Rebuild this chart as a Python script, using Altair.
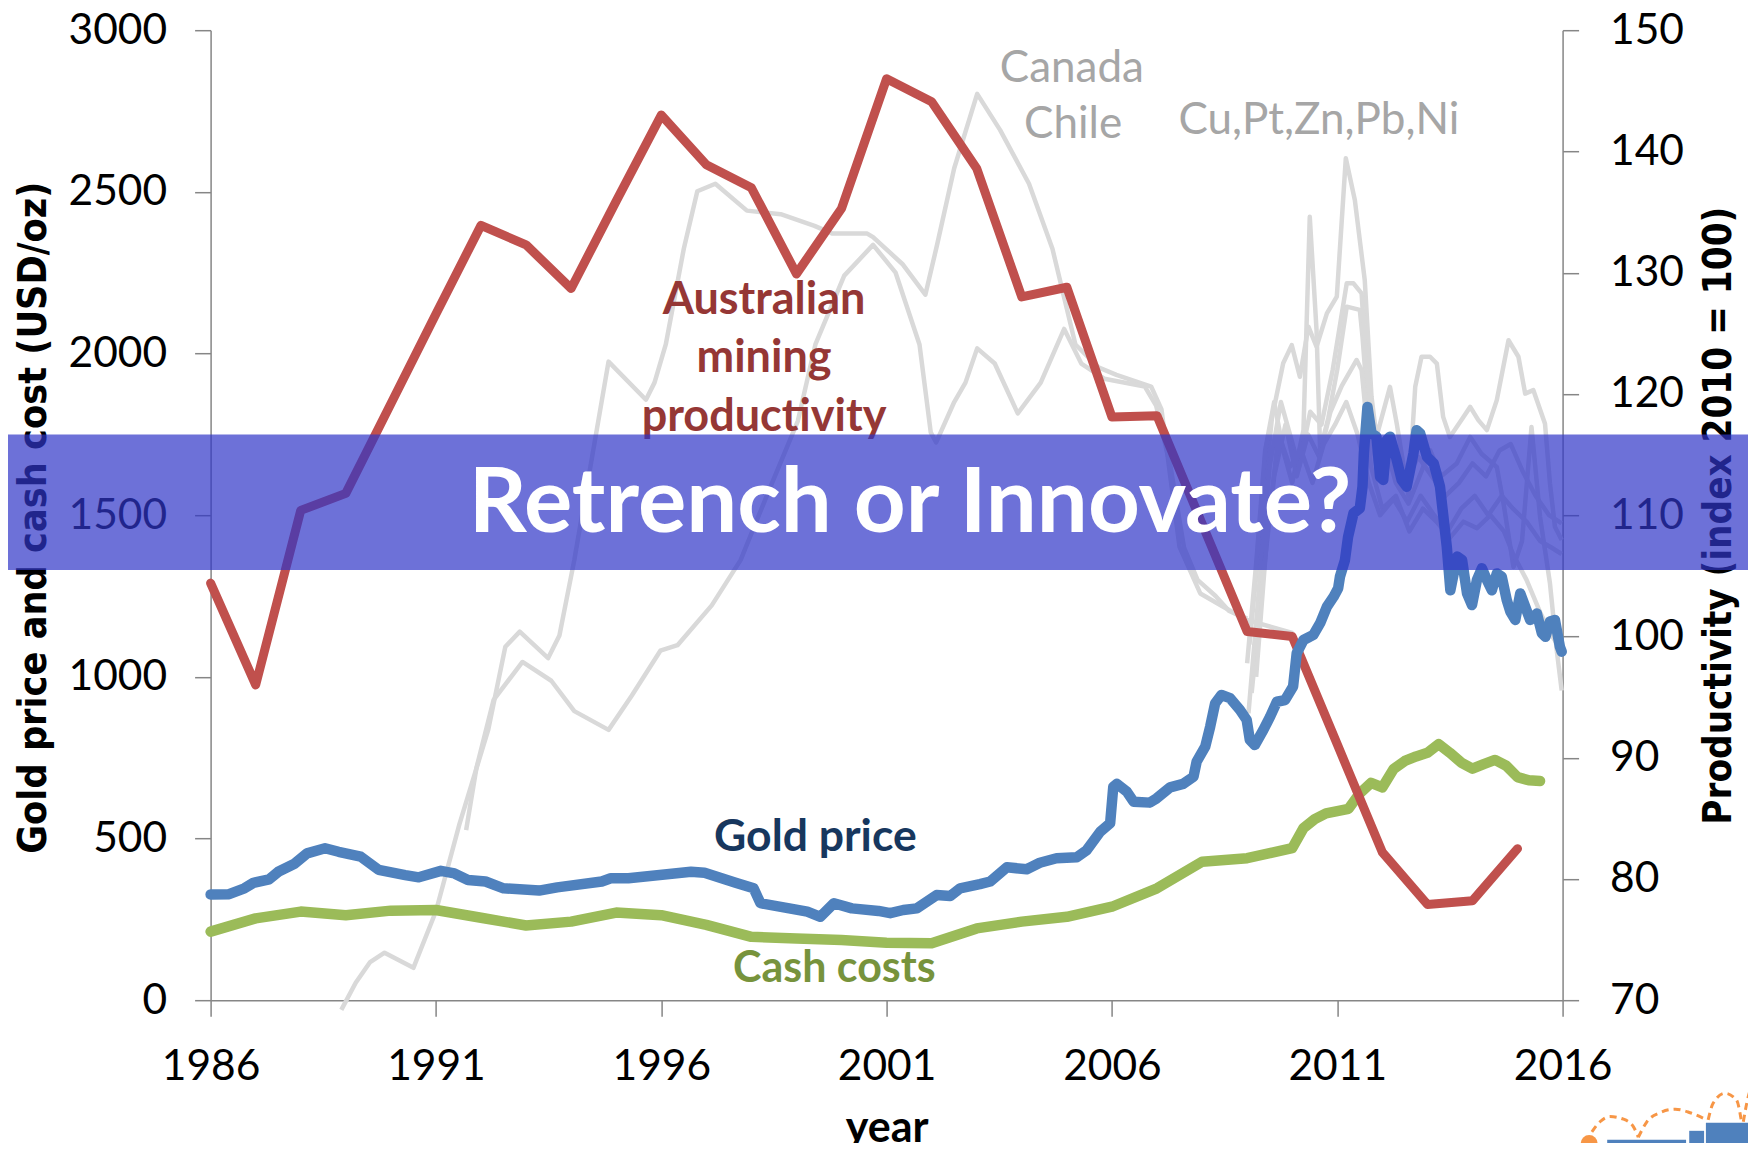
import altair as alt
import pandas as pd

# ---------------- data ----------------
prod_years = list(range(1986, 2016))
productivity = [104.4, 96.0, 110.4, 111.8, 119.2, 126.6, 133.9, 132.3, 128.7, 135.9,
                143.0, 138.9, 137.0, 129.9, 135.3, 146.0, 144.1, 138.6, 128.0, 128.8,
                118.1, 118.2, 109.3, 100.4, 100.0, 91.1, 82.2, 77.9, 78.2, 82.5]

cash_years = [1986, 1987, 1988, 1989, 1990, 1991, 1992, 1993, 1994, 1995, 1996, 1997,
              1998, 1999, 2000, 2001, 2002, 2003, 2004, 2005, 2006, 2007, 2008, 2009,
              2010.0, 2010.25, 2010.5, 2010.75, 2011.0, 2011.25, 2011.5, 2011.75,
              2012.0, 2012.25, 2012.5, 2012.75, 2013.0, 2013.25, 2013.5, 2013.75,
              2014.0, 2014.25, 2014.5, 2014.75, 2015.0, 2015.25, 2015.5]
cash_costs = [212, 253, 274, 263, 277, 279, 255, 231, 243, 271, 263, 233,
              196, 191, 186, 178, 176, 222, 243, 258, 289, 346, 428, 439,
              470, 532, 560, 578, 585, 592, 640, 672,
              658, 715, 740, 754, 765, 792, 765, 735,
              716, 730, 743, 725, 690, 680, 678]

gold_years = [1986.0, 1986.41, 1986.75, 1986.95, 1987.3, 1987.5, 1987.85, 1988.14, 1988.54, 1988.84,
              1989.33, 1989.73, 1990.32, 1990.62, 1991.11, 1991.41, 1991.71, 1992.1, 1992.5, 1993.29,
              1993.69, 1994.68, 1994.88, 1995.27, 1996.66, 1996.96, 1997.65, 1998.05, 1998.2, 1998.84,
              1999.24, 1999.53, 1999.83, 2000.23, 2000.82, 2001.08, 2001.37, 2001.67, 2002.11, 2002.41,
              2002.63, 2003.07, 2003.3, 2003.67, 2004.11, 2004.4, 2004.77, 2005.22, 2005.44, 2005.74,
              2005.96, 2006.03, 2006.11, 2006.33, 2006.48, 2006.84, 2006.99, 2007.29, 2007.58, 2007.81,
              2007.88, 2008.07, 2008.18, 2008.29, 2008.43, 2008.62, 2008.84, 2008.99, 2009.06, 2009.17,
              2009.36, 2009.51, 2009.66, 2009.84, 2010.02, 2010.1, 2010.25, 2010.47, 2010.62, 2010.77,
              2010.92, 2011.02, 2011.06, 2011.17, 2011.24, 2011.36, 2011.5, 2011.56, 2011.59, 2011.67,
              2011.76, 2011.87, 2011.95, 2012.02, 2012.1, 2012.17, 2012.32, 2012.43, 2012.54, 2012.69,
              2012.76, 2012.84, 2012.99, 2013.14, 2013.28, 2013.43, 2013.51, 2013.66, 2013.77, 2013.88,
              2013.99, 2014.1, 2014.21, 2014.32, 2014.43, 2014.54, 2014.65, 2014.76, 2014.84, 2014.95,
              2015.06, 2015.17, 2015.28, 2015.43, 2015.54, 2015.62, 2015.72, 2015.83, 2015.94, 2015.98]
gold_price = [327, 328, 346, 363, 374, 397, 421, 454, 470, 459,
              444, 403, 387, 380, 400, 392, 372, 367, 346, 339,
              349, 367, 377, 377, 397, 394, 363, 346, 300, 284,
              274, 258, 300, 284, 276, 269, 279, 284, 325, 322,
              346, 359, 367, 411, 405, 425, 439, 442, 464, 521,
              547, 660, 669, 645, 614, 611, 624, 658, 669, 691,
              738, 784, 846, 918, 944, 934, 898, 867, 805, 789,
              836, 877, 923, 928, 970, 1073, 1114, 1130, 1166, 1217,
              1248, 1274, 1310, 1361, 1433, 1506, 1521, 1588, 1691, 1835,
              1753, 1743, 1619, 1609, 1733, 1743, 1671, 1609, 1588, 1691,
              1763, 1753, 1681, 1660, 1588, 1403, 1268, 1372, 1361, 1258,
              1222, 1300, 1336, 1300, 1268, 1320, 1310, 1238, 1202, 1176,
              1258, 1217, 1176, 1196, 1135, 1124, 1171, 1176, 1093, 1078]

# grey context series (drawn on the left-hand scale)
canada_years = [1988.9, 1989.22, 1989.54, 1989.86, 1990.5, 1991.0, 1991.52, 1992.16, 1992.54, 1992.86,
                1993.49, 1993.74, 1994.07, 1994.83, 1995.66, 1995.85, 1996.1, 1996.5, 1996.8, 1997.2,
                1997.9, 1998.65, 1999.4, 1999.8, 2000.57, 2000.7, 2001.35, 2001.86, 2002.12, 2002.5,
                2003.01, 2003.52, 2004.16, 2004.68, 2005.19, 2005.7, 2006.1, 2006.87, 2007.1, 2007.5,
                2007.96, 2008.47, 2008.99, 2010.02]
canada_vals = [-30, 54, 118, 147, 100, 275, 544, 836, 1093, 1140,
               1058, 1128, 1361, 1975, 1857, 1910, 2028, 2324, 2502, 2525,
               2442, 2431, 2395, 2371, 2371, 2360, 2277, 2182, 2336, 2573,
               2803, 2691, 2525, 2324, 2028, 1957, 1934, 1898, 1827, 1402,
               1258, 1217, 1176, 1135]
chile_years = [1991.67, 1991.9, 1992.28, 1992.92, 1993.56, 1994.07, 1994.83, 1995.34, 1995.98, 1996.36,
               1997.12, 1997.76, 1998.4, 1999.03, 1999.42, 2000.06, 2000.7, 2001.2, 2001.73, 2001.98,
               2002.1, 2002.5, 2002.75, 2003.01, 2003.4, 2003.91, 2004.42, 2004.94, 2005.32, 2005.83,
               2006.73, 2006.98, 2007.3, 2007.6, 2007.9, 2008.3, 2008.6, 2009.0]
chile_vals = [526, 719, 929, 1046, 988, 894, 836, 941, 1081, 1098,
              1221, 1361, 1580, 1791, 2028, 2241, 2336, 2250, 2028, 1756,
              1725, 1850, 1910, 2016, 1969, 1815, 1910, 2076, 1969, 1922,
              1898, 1839, 1650, 1400, 1300, 1250, 1204, 1180]
cu_years = [2009.05, 2009.3, 2009.55, 2009.8, 2009.99, 2010.17, 2010.36, 2010.54, 2010.77, 2010.99,
            2011.19, 2011.39, 2011.61, 2011.76, 2011.87, 2012.17, 2012.32, 2012.58, 2012.73, 2012.87,
            2013.06, 2013.21, 2013.35, 2013.5, 2013.8, 2013.95, 2014.13, 2014.32, 2014.54, 2014.8,
            2015.02, 2015.17, 2015.35, 2015.61, 2015.72, 2015.83, 2015.98]
cu_vals = [1100, 1450, 1800, 1970, 2026, 1928, 2083, 2021, 2124, 2176,
           2604, 2475, 2227, 1867, 1742, 1897, 1783, 1560, 1897, 1990,
           1990, 1969, 1804, 1742, 1804, 1835, 1794, 1763, 1856, 2041,
           1990, 1876, 1887, 1783, 1598, 1464, 1423]
pt_years = [2009.0, 2009.2, 2009.4, 2009.6, 2009.8, 2010.0, 2010.25, 2010.39, 2010.54, 2010.62,
            2010.8, 2011.0, 2011.21, 2011.5, 2011.56, 2011.7, 2011.9, 2012.1, 2012.3, 2012.58,
            2012.76, 2013.06, 2013.3, 2013.65, 2013.95, 2014.2, 2014.54, 2014.69, 2014.91, 2015.1,
            2015.31, 2015.5, 2015.72, 2015.87, 2015.98]
pt_vals = [1042, 1350, 1700, 1850, 1700, 1600, 1763, 2423, 2073, 1702,
           1800, 1950, 2145, 2135, 2052, 1800, 1620, 1700, 1600, 1536,
           1598, 1701, 1620, 1660, 1742, 1690, 1649, 1536, 1340, 1420,
           1773, 1495, 1289, 1082, 958]
zn_years = [2009.03, 2009.25, 2009.5, 2009.75, 2009.95, 2010.15, 2010.4, 2010.65, 2010.9, 2011.21,
            2011.36, 2011.54, 2011.65, 2011.8, 2012.0, 2012.3, 2012.55, 2012.8, 2013.1, 2013.4,
            2013.7, 2014.0, 2014.3, 2014.6, 2014.85, 2015.1, 2015.4, 2015.7, 2015.98]
zn_vals = [887, 1250, 1650, 1850, 1750, 1650, 1820, 1780, 1950, 2217,
           2217, 2186, 1950, 1804, 1650, 1700, 1620, 1680, 1620, 1560,
           1600, 1660, 1620, 1700, 1720, 1640, 1560, 1500, 1475]
pb_years = [2009.1, 2009.35, 2009.6, 2009.85, 2010.1, 2010.35, 2010.6, 2010.85, 2011.1, 2011.43,
            2011.54, 2011.75, 2012.0, 2012.3, 2012.6, 2012.9, 2013.2, 2013.5, 2013.8, 2014.1,
            2014.4, 2014.7, 2014.9, 2015.2, 2015.5, 2015.75, 2015.98]
pb_vals = [950, 1300, 1620, 1780, 1620, 1750, 1680, 1820, 1900, 1980,
           1949, 1650, 1520, 1560, 1450, 1520, 1480, 1430, 1480, 1460,
           1500, 1450, 1380, 1300, 1200, 1130, 1080]
ni_years = [2009.2, 2009.45, 2009.7, 2009.95, 2010.2, 2010.45, 2010.7, 2010.95, 2011.2, 2011.45,
            2011.7, 2011.95, 2012.25, 2012.55, 2012.85, 2013.15, 2013.45, 2013.75, 2014.05, 2014.35,
            2014.65, 2014.9, 2015.2, 2015.5, 2015.75, 2015.98]
ni_vals = [1000, 1450, 1750, 1650, 1700, 1600, 1720, 1780, 1850, 1750,
           1600, 1500, 1550, 1480, 1560, 1500, 1450, 1520, 1560, 1500,
           1560, 1520, 1480, 1420, 1400, 1380]

x_ticks = [1986, 1991, 1996, 2001, 2006, 2011, 2016]
left_ticks = [0, 500, 1000, 1500, 2000, 2500, 3000]
right_ticks = [70, 80, 90, 100, 110, 120, 130, 140, 150]

# annotation anchors (year, left-axis value)
label_text = ["Australian", "mining", "productivity", "Gold price", "Cash costs"]
label_x = [1998.28, 1998.28, 1998.28, 1999.42, 1999.84]
label_y = [2165, 1986, 1804, 502, 97]
label_color = ["#953735", "#953735", "#953735", "#17375E", "#77933C"]
label_size = [45, 45, 45, 44.5, 43]

grey_text = ["Canada", "Chile", "Cu,Pt,Zn,Pb,Ni"]
grey_x = [2005.11, 2005.14, 2010.59]
grey_y = [2879, 2706, 2719]

banner_x = [1981.0]
banner_x2 = [2021.0]
banner_y = [1330.5]
banner_y2 = [1749.9]
banner_text = ["Retrench or Innovate?"]
banner_text_x = [2001.52]
banner_text_y = [1530]

# small corner logo (year, left-axis value)
logo_dot_x = [2016.59]
logo_dot_y = [-443]
logo_bar_x = [2016.99, 2018.81, 2019.18]
logo_bar_x2 = [2018.74, 2019.14, 2020.4]
logo_bar_top = [-432, -404, -379]
logo_bar_bottom = [-480, -480, -480]
arc_id = [1, 1, 1, 1, 1, 1, 2, 2, 2, 2, 2, 2, 3, 3, 3, 3, 3, 4, 4, 4]
arc_x = [2016.65, 2016.83, 2017.05, 2017.35, 2017.57, 2017.68,
         2017.68, 2017.87, 2018.16, 2018.5, 2018.83, 2019.2,
         2019.23, 2019.34, 2019.6, 2019.86, 2019.97,
         2020.01, 2020.12, 2020.29]
arc_y = [-407, -376, -360, -368, -391, -424,
         -424, -376, -348, -337, -348, -370,
         -370, -319, -288, -309, -376,
         -376, -298, -247]

# ---------------- frames ----------------
def frame(xs, ys, name=None):
    df = pd.DataFrame({"x": xs, "y": ys})
    if name is not None:
        df["series"] = name
    return df

grey_df = pd.concat([
    frame(canada_years, canada_vals, "Canada"),
    frame(chile_years, chile_vals, "Chile"),
    frame(cu_years, cu_vals, "Cu"),
    frame(pt_years, pt_vals, "Pt"),
    frame(zn_years, zn_vals, "Zn"),
    frame(pb_years, pb_vals, "Pb"),
    frame(ni_years, ni_vals, "Ni"),
], ignore_index=True)
cash_df = frame(cash_years, cash_costs)
gold_df = frame(gold_years, gold_price)
prod_df = frame(prod_years, productivity)
labels_df = pd.DataFrame({"x": label_x, "y": label_y, "text": label_text,
                          "c": label_color, "s": label_size})
grey_lab_df = pd.DataFrame({"x": grey_x, "y": grey_y, "text": grey_text})
banner_df = pd.DataFrame({"x": banner_x, "x2": banner_x2, "y": banner_y, "y2": banner_y2})
banner_txt_df = pd.DataFrame({"x": banner_text_x, "y": banner_text_y, "text": banner_text})
dot_df = pd.DataFrame({"x": logo_dot_x, "y": logo_dot_y})
bars_df = pd.DataFrame({"x": logo_bar_x, "x2": logo_bar_x2, "y": logo_bar_top, "y2": logo_bar_bottom})
arcs_df = pd.DataFrame({"x": arc_x, "y": arc_y, "arc": arc_id})

# ---------------- styling ----------------
FONT = "Lato"
TITLE_FONT = "DejaVu Sans Condensed"
AXG = "#868686"

x_scale = alt.Scale(domain=[1986, 2016], nice=False, zero=False)
left_scale = alt.Scale(domain=[0, 3000], nice=False, zero=False)
right_scale = alt.Scale(domain=[70, 150], nice=False, zero=False)

common = dict(labelFont=FONT, labelFontSize=42.5, labelColor="#000000", tickSize=16,
              tickColor=AXG, tickWidth=1.5, domainColor=AXG, domainWidth=1.5,
              grid=False, labelFlush=False, labelOverlap=False, zindex=0, format="d")

x_axis = alt.Axis(values=x_ticks, labelPadding=29, title="year", titleFont=FONT,
                  titleFontSize=43, titleFontWeight="bold", titleColor="#000000",
                  titleX=676, titleY=141, titleBaseline="alphabetic", **common)
left_axis = alt.Axis(orient="left", values=left_ticks, labelPadding=28,
                     title="Gold price and cash cost (USD/oz)", titleFont=TITLE_FONT,
                     titleFontSize=39.2, titleFontWeight="bold", titleColor="#000000",
                     titleAngle=270, titleX=-177, titleY=487, titleBaseline="middle",
                     titleAlign="center", **common)
right_axis = alt.Axis(orient="right", values=right_ticks, labelPadding=31,
                      title="Productivity (index 2010 = 100)", titleFont=TITLE_FONT,
                      titleFontSize=38.2, titleFontWeight="bold", titleColor="#000000",
                      titleAngle=270, titleX=157, titleY=485, titleBaseline="middle",
                      titleAlign="center", **common)

X = alt.X("x:Q", scale=x_scale, axis=x_axis)
YL = alt.Y("y:Q", scale=left_scale, axis=left_axis)
YR = alt.Y("y:Q", scale=right_scale, axis=right_axis)
YB = alt.Y("y:Q", scale=left_scale, axis=None)

# ---------------- layers ----------------
grey = alt.Chart(grey_df).mark_line(color="#D9D9D9", strokeWidth=4.5, strokeJoin="round").encode(
    x=X, y=YL, detail="series:N")
cash = alt.Chart(cash_df).mark_line(color="#9BBB59", strokeWidth=10.5, strokeJoin="round",
                                    strokeCap="round").encode(x=X, y=YL)
group_a = alt.layer(grey, cash)

prod = alt.Chart(prod_df).mark_line(color="#C0504D", strokeWidth=9, strokeJoin="round",
                                    strokeCap="round").encode(x=X, y=YR)

gold = alt.Chart(gold_df).mark_line(color="#4F81BD", strokeWidth=10.5, strokeJoin="round",
                                    strokeCap="round").encode(x=X, y=YB)
labels = alt.Chart(labels_df).mark_text(font=FONT, fontWeight="bold",
                                        align="center", baseline="middle").encode(
    x=X, y=YB, text="text:N", color=alt.Color("c:N", scale=None),
    size=alt.Size("s:Q", scale=None))
grey_labels = alt.Chart(grey_lab_df).mark_text(font=FONT, fontSize=44, color="#A6A6A6",
                                               align="center", baseline="middle").encode(
    x=X, y=YB, text="text:N")
banner = alt.Chart(banner_df).mark_rect(color="#2F35C8", opacity=0.7).encode(
    x=X, x2="x2:Q", y=YB, y2="y2:Q")
banner_txt = alt.Chart(banner_txt_df).mark_text(font=FONT, fontSize=90.5, fontWeight="bold",
                                                color="#FFFFFF", align="center",
                                                baseline="middle").encode(x=X, y=YB, text="text:N")
logo_bars = alt.Chart(bars_df).mark_rect(color="#4F81BD").encode(x=X, x2="x2:Q", y=YB, y2="y2:Q")
logo_arcs = alt.Chart(arcs_df).mark_line(color="#F79646", strokeWidth=3, strokeDash=[7, 5],
                                         interpolate="monotone").encode(x=X, y=YB, detail="arc:N")
logo_dot = alt.Chart(dot_df).mark_circle(color="#F79646", size=283, opacity=1).encode(x=X, y=YB)

group_b = alt.layer(gold, labels, grey_labels, banner, banner_txt, logo_arcs, logo_bars, logo_dot)

chart = alt.layer(group_a, prod, group_b).resolve_scale(y="independent").properties(
    width=1352, height=970,
    autosize=alt.AutoSizeParams(type="none"),
    padding={"left": 202.6, "top": 22.2, "right": 185, "bottom": 143},
    background="#FFFFFF",
).configure(font=FONT).configure_view(strokeOpacity=0)

chart.save("out.html", embed_options={"renderer": "svg", "actions": False})
